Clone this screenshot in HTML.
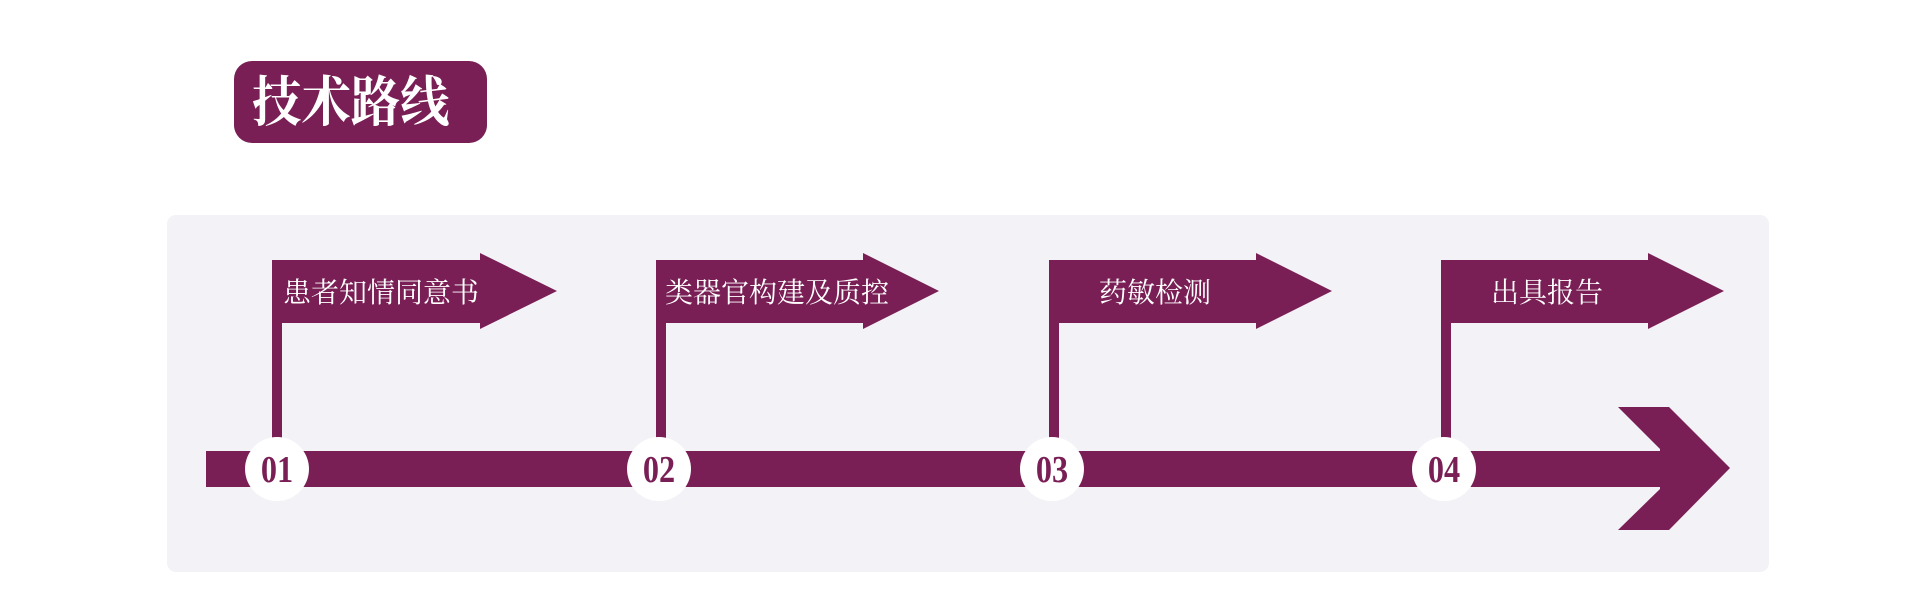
<!DOCTYPE html>
<html><head><meta charset="utf-8"><style>
html,body{margin:0;padding:0;background:#fff;width:1920px;height:603px;overflow:hidden}
svg text{font-family:"Liberation Serif","Noto Serif CJK SC",serif}
</style></head><body>
<svg width="1920" height="603" viewBox="0 0 1920 603" xmlns="http://www.w3.org/2000/svg">
<rect x="234" y="61" width="253" height="82" rx="18" fill="#7a1f55"/>
<text x="252" y="121" font-size="52" fill="#fff" font-weight="bold" transform="translate(252 121) scale(0.95 1.05) translate(-252 -121)">技术路线</text>
<rect x="167" y="215" width="1602" height="357" rx="9" fill="#f3f3f7"/>
<g fill="#7a1f55">
<rect x="206" y="451" width="1456" height="36"/>
<polygon points="1618,407 1669,407 1730,468 1669,530 1618,530 1660,489 1660,449"/>
<rect x="272" y="260" width="10" height="180"/>
<polygon points="272,260 480,260 480,253 557,291 480,329 480,323 272,323"/>
<rect x="656" y="260" width="10" height="180"/>
<polygon points="656,260 863,260 863,253 939,291 863,329 863,323 656,323"/>
<rect x="1049" y="260" width="10" height="180"/>
<polygon points="1049,260 1256,260 1256,253 1332,291 1256,329 1256,323 1049,323"/>
<rect x="1441" y="260" width="10" height="180"/>
<polygon points="1441,260 1648,260 1648,253 1724,291 1648,329 1648,323 1441,323"/>
</g>
<g fill="#fff">
<circle cx="277" cy="469" r="32"/>
<circle cx="659" cy="469" r="32"/>
<circle cx="1052" cy="469" r="32"/>
<circle cx="1444" cy="469" r="32"/>
</g>
<g font-size="28" fill="#fff">
<text x="283" y="302">患者知情同意书</text>
<text x="665" y="302">类器官构建及质控</text>
<text x="1099" y="302">药敏检测</text>
<text x="1491" y="302">出具报告</text>
</g>
<g font-size="38" font-weight="bold" fill="#7a1f55" text-anchor="middle">
<text transform="translate(277 482) scale(0.85 1)">01</text>
<text transform="translate(659 482) scale(0.85 1)">02</text>
<text transform="translate(1052 482) scale(0.85 1)">03</text>
<text transform="translate(1444 482) scale(0.85 1)">04</text>
</g>
</svg>
</body></html>
